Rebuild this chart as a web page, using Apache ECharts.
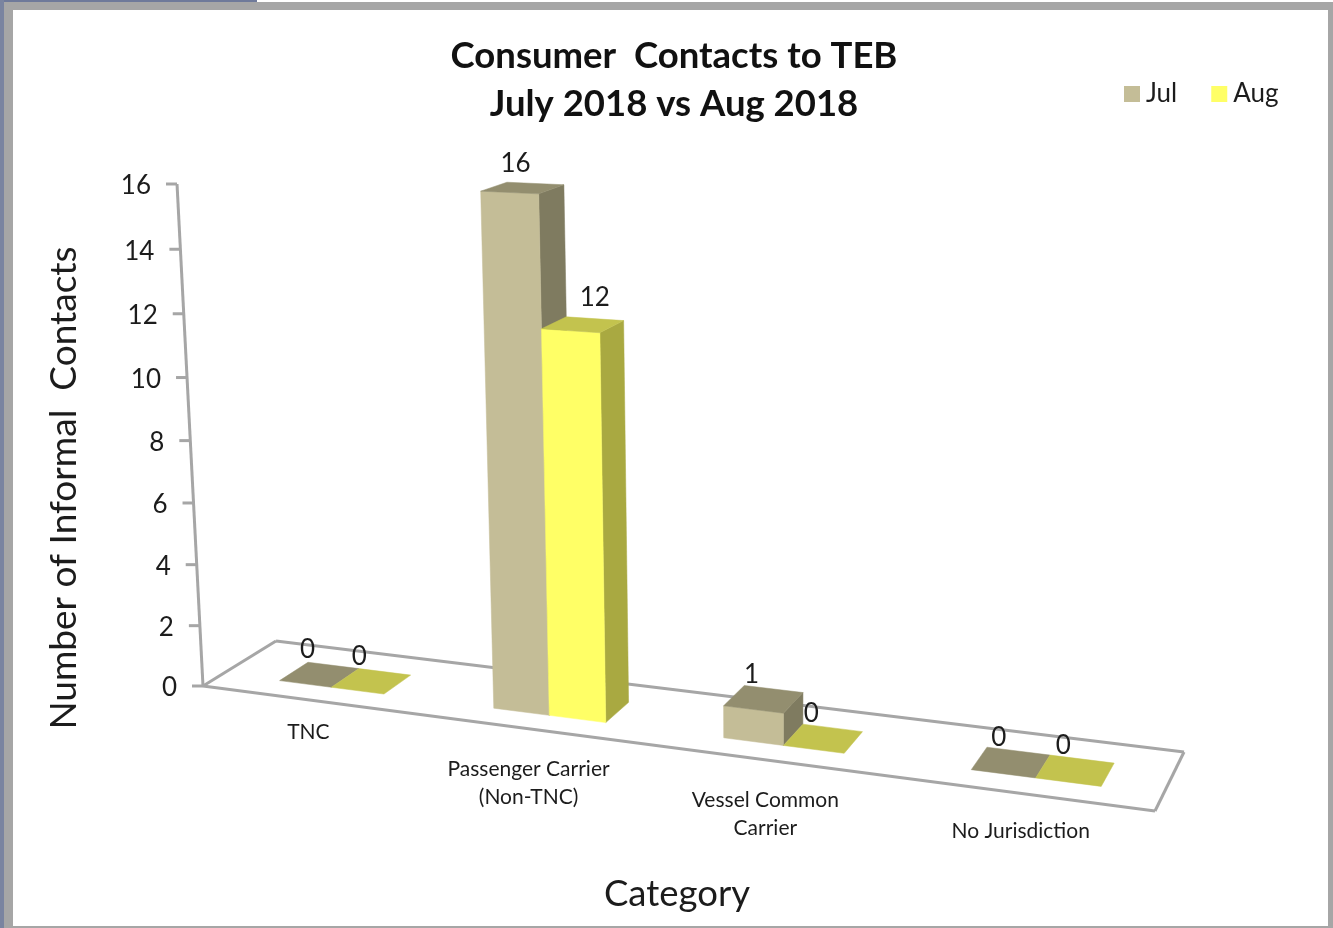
<!DOCTYPE html>
<html><head><meta charset="utf-8">
<style>html,body{margin:0;padding:0;background:#fff}#c{width:1333px;height:928px}</style>
<script src="https://cdn.jsdelivr.net/npm/echarts@6/dist/echarts.min.js"></script>
</head><body><div id="c"></div>
<script>
const categories = ['TNC', 'Passenger Carrier\n(Non-TNC)', 'Vessel Common\nCarrier', 'No Jurisdiction'];
const julValues = [0, 16, 1, 0];
const augValues = [0, 12, 0, 0];
const yTicks = [0, 2, 4, 6, 8, 10, 12, 14, 16];

const FONT = 'Lato, "Open Sans", sans-serif';
const INK = '#1c1c1c', EDGE = '#a6a6a6';
const G = {left: 203, top: 184, width: 948, height: 608};
const YMAX = 16;

// Perspective of the 3D-view chart box: floor corners, vertical vanishing point
const FL = [203, 686], BL = [276, 641], BR = [1184, 752], FR = [1155, 811];
const VP = [771, 11660], AXIS_TOP_Y = 184;
const dx1 = FR[0] - BR[0], dx2 = BL[0] - BR[0], sx = FL[0] - FR[0] + BR[0] - BL[0];
const dy1 = FR[1] - BR[1], dy2 = BL[1] - BR[1], sy = FL[1] - FR[1] + BR[1] - BL[1];
const det = dx1 * dy2 - dx2 * dy1;
const pg = (sx * dy2 - dx2 * sy) / det, ph = (dx1 * sy - sx * dy1) / det;
const kH = (FL[1] - AXIS_TOP_Y) / (AXIS_TOP_Y - VP[1]) / YMAX;
function project(u, v, h) {
  const w = pg * u + ph * v + 1 + kH * h;
  const x = (FR[0] - FL[0] + pg * FR[0]) * u + (BL[0] - FL[0] + ph * BL[0]) * v + FL[0] + kH * h * VP[0];
  const y = (FR[1] - FL[1] + pg * FR[1]) * u + (BL[1] - FL[1] + ph * BL[1]) * v + FL[1] + kH * h * VP[1];
  return [x / w, y / w];
}
const uOf = p => (p[0] - G.left) / G.width;
const hOf = p => (G.top + G.height - p[1]) / G.height * YMAX;

const BAR_U = 0.062, V0 = 0.27, V1 = 0.67, GROUP_SHIFT = 0.0055;
const LABEL_NUDGE = {'0,16': [5, 1], '1,12': [24, -2]};
const CATEGORY_LABEL_DY = [19, 27, 27, 24];

function poly(points, fill) {
  return {type: 'polygon', shape: {points}, style: {fill, stroke: fill, lineWidth: 0.5}};
}
function barRenderer(seriesIdx, front, top, side) {
  return function (params, api) {
    const c = api.value(0), val = api.value(1);
    const p = api.coord([c, val]);
    const uc = uOf(p) + GROUP_SHIFT, h = hOf(p);
    const u0 = uc + (seriesIdx - 1) * BAR_U, u1 = u0 + BAR_U;
    const fbl = project(u0, V0, 0), fbr = project(u1, V0, 0), bbr = project(u1, V1, 0);
    const ftl = project(u0, V0, h), ftr = project(u1, V0, h), btr = project(u1, V1, h), btl = project(u0, V1, h);
    const children = [];
    if (val > 0) {
      children.push(poly([fbr, bbr, btr, ftr], side));
      children.push(poly([fbl, fbr, ftr, ftl], front));
    }
    children.push(poly([ftl, ftr, btr, btl], top));
    const nudge = LABEL_NUDGE[seriesIdx + ',' + val] || [0, 0];
    const mid = project((u0 + u1) / 2, (V0 + V1) / 2, h);
    children.push({type: 'text', z2: 10, style: {
      text: String(val), x: mid[0] - 12 + nudge[0], y: mid[1] - 25 + nudge[1],
      align: 'center', verticalAlign: 'middle', font: '26px ' + FONT, fill: INK}});
    return {type: 'group', children};
  };
}
function line(a, b) {
  return {type: 'line', shape: {x1: a[0], y1: a[1], x2: b[0], y2: b[1]}, style: {stroke: EDGE, lineWidth: 3}};
}

const option = {
  animation: false,
  backgroundColor: '#ffffff',
  graphic: [
    {type: 'rect', z: -10, shape: {x: 0, y: 2, width: 1333, height: 926}, style: {fill: '#a6a6a6'}},
    {type: 'rect', z: -10, shape: {x: 0, y: 0, width: 257, height: 2}, style: {fill: '#6f7a9a'}},
    {type: 'rect', z: -10, shape: {x: 0, y: 0, width: 4, height: 928}, style: {fill: '#7a84a0'}},
    {type: 'rect', z: -9, shape: {x: 13, y: 10, width: 1315, height: 916}, style: {fill: '#ffffff'}}
  ],
  title: {
    text: 'Consumer  Contacts to TEB\nJuly 2018 vs Aug 2018',
    left: 669, top: 27, textAlign: 'center',
    textStyle: {fontFamily: FONT, fontWeight: 'bold', fontSize: 36.5, lineHeight: 48, color: '#111'}
  },
  legend: {
    data: ['Jul', 'Aug'], left: 1119, top: 76, orient: 'horizontal', icon: 'rect',
    itemWidth: 16, itemHeight: 16, itemGap: 34, selectedMode: false,
    textStyle: {fontFamily: FONT, fontSize: 26, color: INK, padding: [0, 0, 0, 1]}
  },
  grid: G,
  xAxis: {
    type: 'category', data: categories, name: 'Category', nameLocation: 'middle', nameGap: 84,
    nameTextStyle: {fontFamily: FONT, fontSize: 36.5, color: INK},
    axisLine: {show: false}, axisTick: {show: false}, axisLabel: {show: false}, splitLine: {show: false}
  },
  yAxis: {
    type: 'value', min: 0, max: YMAX, interval: 2, name: 'Number of Informal  Contacts',
    nameLocation: 'middle', nameGap: 120,
    nameTextStyle: {fontFamily: FONT, fontSize: 37, color: INK},
    axisLine: {show: false}, axisTick: {show: false}, axisLabel: {show: false}, splitLine: {show: false}
  },
  series: [
    {
      type: 'custom', name: 'floor', z: 1, silent: true, data: [[0, 0]],
      renderItem: () => ({type: 'group', children: [
        line(FL, BL), line(BL, BR), line(BR, FR), line(FR, FL), line(FL, project(0, 0, YMAX))
      ]})
    },
    {
      type: 'custom', name: 'yTicks', z: 1, silent: true,
      data: yTicks.map(t => [0, t]),
      renderItem: (params, api) => {
        const t = api.value(1), h = hOf(api.coord([0, t])), a = project(0, 0, h);
        return {type: 'group', children: [
          line(a, [a[0] - 11, a[1]]),
          {type: 'text', style: {text: String(t), x: a[0] - 26, y: a[1] + 2, align: 'right', verticalAlign: 'middle',
            font: '26px ' + FONT, fill: INK}}
        ]};
      }
    },
    {
      type: 'custom', name: 'categoryLabels', z: 1, silent: true,
      data: categories.map((c, i) => [i, 0]),
      renderItem: (params, api) => {
        const i = api.value(0), u = uOf(api.coord([i, 0])), a = project(u, 0, 0);
        return {type: 'text', style: {text: categories[i], x: a[0] + 1, y: a[1] + CATEGORY_LABEL_DY[i], align: 'center', verticalAlign: 'top',
          font: '21px ' + FONT, lineHeight: 28, fill: INK}};
      }
    },
    {
      type: 'custom', name: 'Jul', z: 2, itemStyle: {color: '#c4bd97'},
      data: julValues.map((v, i) => [i, v]),
      renderItem: barRenderer(0, '#c4bd97', '#938e6f', '#7f7b60')
    },
    {
      type: 'custom', name: 'Aug', z: 3, itemStyle: {color: '#ffff66'},
      data: augValues.map((v, i) => [i, v]),
      renderItem: barRenderer(1, '#ffff66', '#c3c34e', '#a9a941')
    }
  ]
};
const chart = echarts.init(document.getElementById('c'), null, {renderer: 'canvas', width: 1333, height: 928});
chart.setOption(option);
</script></body></html>
